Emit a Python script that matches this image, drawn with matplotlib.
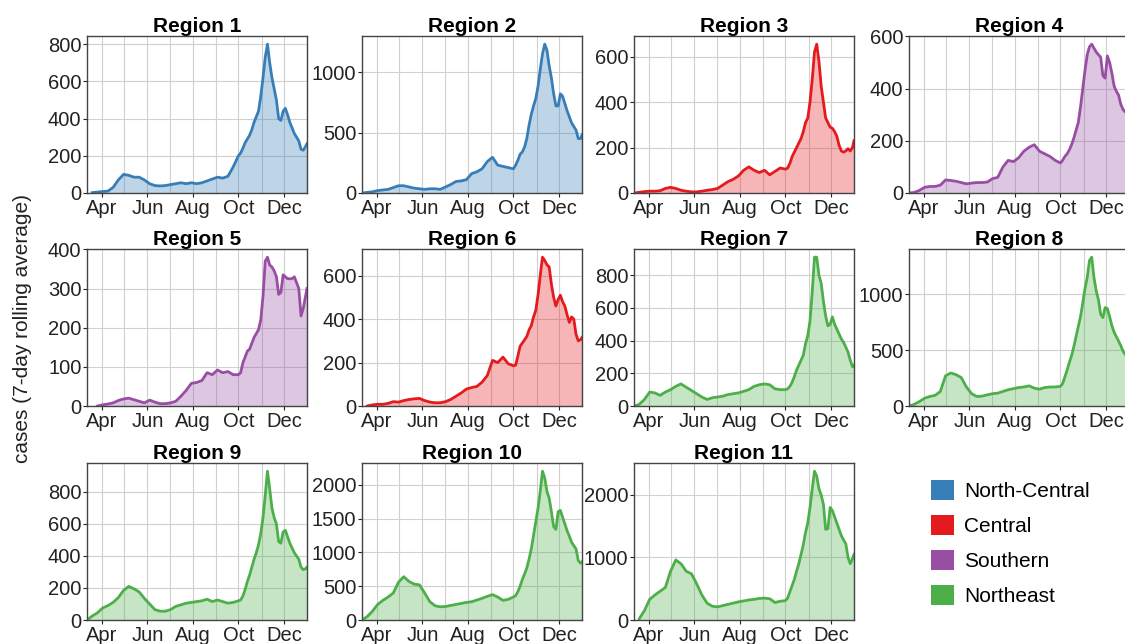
import numpy as np
import pandas as pd
import matplotlib
matplotlib.use('Agg')
import matplotlib.pyplot as plt
import matplotlib.dates as mdates
from matplotlib.patches import Patch
from matplotlib.ticker import MultipleLocator

plt.rcParams['font.family'] = ['Liberation Sans', 'DejaVu Sans']

nan = np.nan

# weekly samples up to late September, then every 3 days
dates = pd.DatetimeIndex(
    list(pd.date_range('2020-03-12', '2020-09-24', freq='7D'))
    + list(pd.date_range('2020-10-01', '2020-12-30', freq='3D'))
    + [pd.Timestamp('2021-01-01')])

r1 = [nan, 2, 5, 8, 10, 30, 70, 100, 95, 85, 85, 70, 50, 40, 38, 40, 45, 50, 55, 50, 55, 50, 55, 65, 75, 85, 80, 90, 140,
      200, 215, 240, 270, 290, 310, 340, 380, 410, 440, 520, 620, 730, 800, 700, 620, 560, 500, 400, 390, 440, 455,
      420, 380, 350, 320, 300, 280, 235, 230, 250, 265]
r2 = [0, 5, 10, 20, 25, 30, 45, 60, 60, 50, 40, 35, 30, 35, 35, 30, 50, 70, 95, 100, 110, 160, 175, 200, 260, 295, 230, 220, 210,
      200, 230, 270, 320, 340, 380, 450, 560, 650, 720, 780, 880, 1020, 1150, 1230, 1180, 1050, 950, 820, 720, 720, 820,
      800, 740, 680, 630, 580, 550, 520, 450, 450, 480]
r3 = [0, 3, 6, 8, 8, 10, 20, 25, 20, 12, 8, 5, 5, 8, 12, 15, 20, 35, 50, 60, 75, 100, 115, 100, 90, 100, 80, 95, 110,
      105, 110, 130, 160, 180, 200, 220, 240, 270, 310, 330, 400, 500, 620, 655, 580, 470, 400, 330, 310, 290, 285,
      270, 250, 210, 185, 180, 185, 195, 185, 200, 230]
r4 = [0, 2, 10, 22, 25, 25, 30, 50, 48, 45, 40, 35, 38, 40, 40, 42, 55, 60, 100, 125, 120, 135, 160, 175, 185, 160, 150, 140, 125,
      115, 125, 140, 150, 165, 185, 210, 240, 270, 330, 400, 470, 530, 560, 570, 555, 540, 530, 520, 450, 440, 525,
      500, 460, 410, 390, 375, 340, 320, 310, 305, 310]
r5 = [nan, nan, 0, 3, 5, 8, 14, 18, 20, 16, 12, 8, 15, 10, 6, 6, 8, 12, 25, 40, 58, 60, 65, 85, 80, 92, 85, 88, 80,
      80, 85, 110, 125, 140, 145, 160, 175, 185, 195, 220, 280, 370, 380, 360, 355, 345, 330, 285, 290, 335, 330,
      325, 325, 325, 330, 315, 300, 230, 250, 280, 300]
r6 = [nan, 0, 5, 8, 8, 12, 20, 18, 25, 30, 33, 35, 25, 18, 15, 15, 20, 30, 45, 60, 78, 85, 90, 110, 140, 210, 200, 225, 195,
      185, 188, 230, 275, 290, 305, 320, 350, 370, 410, 440, 510, 600, 685, 670, 650, 640, 560, 500, 460, 490, 510,
      480, 460, 420, 385, 410, 400, 330, 300, 305, 315]
r7 = [0, 10, 40, 85, 80, 65, 85, 100, 120, 135, 115, 95, 75, 55, 40, 50, 55, 60, 70, 75, 80, 90, 100, 120, 130, 135, 130, 105, 100,
      100, 105, 120, 145, 180, 220, 250, 280, 310, 380, 430, 520, 700, 910, 910, 800, 750, 640, 550, 490, 500, 545,
      500, 470, 440, 410, 390, 360, 330, 280, 240, 250]
r8 = [0, 15, 40, 70, 85, 95, 130, 270, 295, 280, 255, 170, 110, 85, 88, 100, 110, 115, 130, 145, 155, 165, 170, 180, 160, 150, 165, 170, 170,
      175, 200, 260, 320, 390, 450, 530, 620, 710, 800, 920, 1050, 1150, 1300, 1330, 1150, 1030, 950, 820, 790, 880, 870,
      800, 720, 660, 620, 580, 540, 490, 460, 450, 450]
r9 = [0, 25, 45, 75, 90, 110, 140, 185, 210, 195, 175, 135, 100, 65, 55, 55, 65, 85, 95, 105, 110, 115, 120, 130, 115, 125, 115, 105, 110,
      120, 125, 150, 190, 240, 280, 330, 380, 420, 470, 540, 640, 780, 930, 820, 700, 640, 600, 490, 480, 550, 560,
      520, 480, 450, 420, 400, 380, 330, 315, 320, 330]
r10 = [0, 50, 130, 230, 290, 340, 400, 560, 640, 570, 530, 520, 400, 270, 210, 195, 200, 215, 230, 245, 260, 270, 295, 320, 350, 375, 340, 290, 305,
       340, 360, 420, 500, 600, 680, 770, 900, 1050, 1250, 1450, 1650, 1900, 2200, 2100, 1900, 1800, 1600, 1380, 1340, 1600, 1620,
       1520, 1420, 1320, 1240, 1150, 1100, 1050, 880, 840, 860]
r11 = [nan, 20, 150, 330, 400, 460, 520, 780, 960, 900, 780, 740, 580, 400, 270, 220, 210, 230, 250, 270, 290, 305, 320, 330, 345, 350, 340, 280, 300,
       310, 350, 450, 550, 650, 780, 900, 1050, 1200, 1400, 1550, 1800, 2100, 2380, 2300, 2100, 2000, 1850, 1450, 1460, 1800, 1750,
       1650, 1550, 1450, 1350, 1280, 1220, 1000, 900, 980, 1050]

series = [r1, r2, r3, r4, r5, r6, r7, r8, r9, r10, r11]
zones = ['North-Central', 'North-Central', 'Central', 'Southern', 'Southern', 'Central',
         'Northeast', 'Northeast', 'Northeast', 'Northeast', 'Northeast']
zone_names = ['North-Central', 'Central', 'Southern', 'Northeast']
zone_colors = {'North-Central': '#377eb8', 'Central': '#e41a1c',
               'Southern': '#984ea3', 'Northeast': '#4daf4a'}
ystep = [200, 500, 200, 200, 100, 200, 200, 500, 200, 500, 1000]

W, H = 1125, 644
fig = plt.figure(figsize=(W / 100, H / 100), dpi=100)

col_x = [87, 362, 634, 909]
row_y = [36, 249, 463]
aw, ah = 220, 157


def panel(i):
    x0 = col_x[i % 4]
    y0 = row_y[i // 4]
    return fig.add_axes([x0 / W, 1 - (y0 + ah) / H, aw / W, ah / H])


for i, vals in enumerate(series):
    assert len(vals) == len(dates)
    ax = panel(i)
    v = np.array(vals, dtype=float)
    c = zone_colors[zones[i]]
    ax.fill_between(dates, v, color=c, alpha=0.32, lw=0)
    ax.plot(dates, v, color=c, lw=2.0)

    ax.set_xlim(pd.Timestamp('2020-03-12'), pd.Timestamp('2021-01-01'))
    ax.set_ylim(0, np.nanmax(v) * 1.055)
    ax.yaxis.set_major_locator(MultipleLocator(ystep[i]))
    ax.xaxis.set_major_locator(mdates.MonthLocator(bymonth=[4, 6, 8, 10, 12]))
    ax.xaxis.set_minor_locator(mdates.MonthLocator())
    ax.xaxis.set_major_formatter(mdates.DateFormatter('%b'))

    ax.grid(True, which='both', color='#d0d0d0', lw=0.8)
    ax.set_axisbelow(True)
    ax.tick_params(which='major', labelsize=14.5, length=3, width=0.8,
                   pad=1, colors='#222222')
    ax.tick_params(which='minor', length=0)
    for s in ax.spines.values():
        s.set_color('#444444')
        s.set_linewidth(1.0)
    ax.set_title(f'Region {i + 1}', fontsize=15, fontweight='bold', pad=2)

# legend in the empty twelfth slot
lax = panel(11)
lax.axis('off')
handles = [Patch(facecolor=zone_colors[z], edgecolor='none') for z in zone_names]
lax.legend(handles, zone_names, loc='center left', bbox_to_anchor=(0.1, 0.49),
           frameon=False, fontsize=15, handlelength=1.1, handleheight=1.1,
           labelspacing=0.68, handletextpad=0.5, borderpad=0, borderaxespad=0)

fig.text(0.02, 0.49, 'cases (7-day rolling average)', rotation=90,
         va='center', ha='center', fontsize=15, color='#222222')

fig.savefig('out.png', dpi=100)
